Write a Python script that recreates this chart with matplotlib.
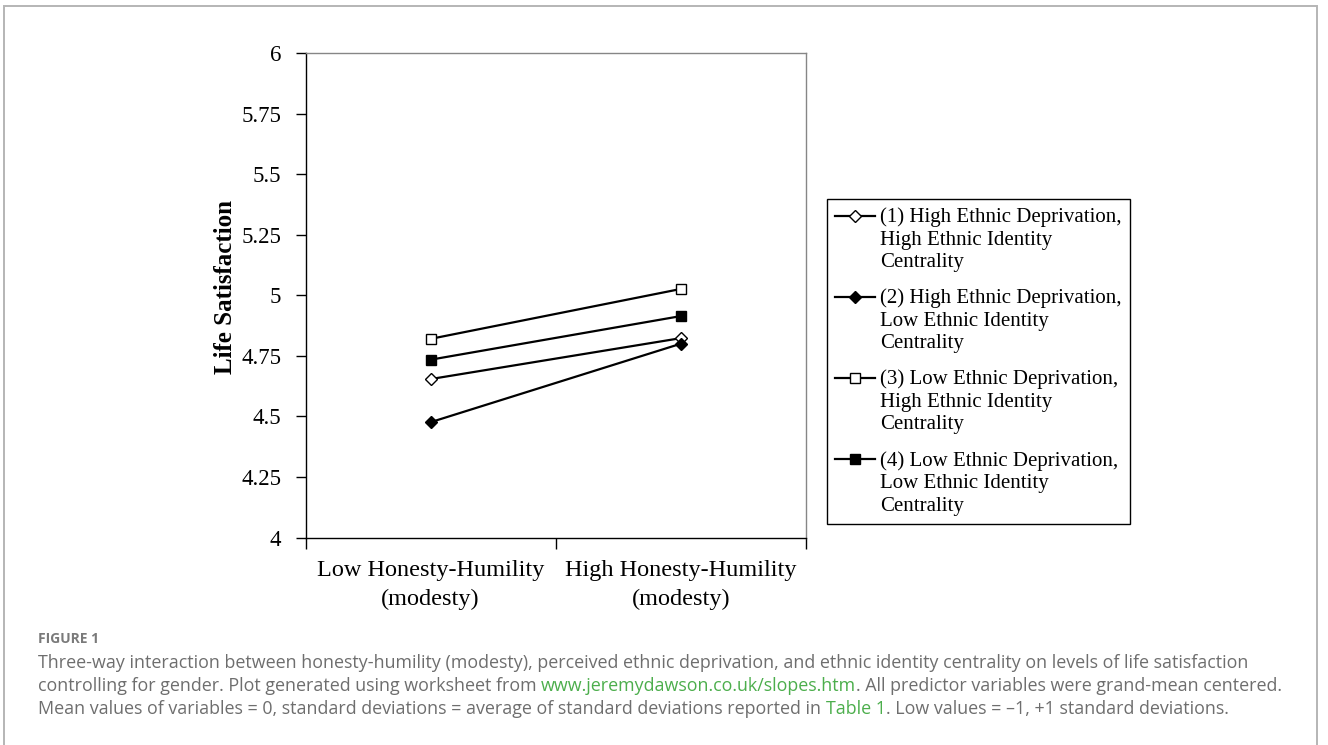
import matplotlib
matplotlib.use("Agg")
import matplotlib.pyplot as plt
from matplotlib.ticker import FixedLocator
from matplotlib.patches import Rectangle

# ---------------- data ----------------
categories = ["Low Honesty-Humility\n(modesty)", "High Honesty-Humility\n(modesty)"]
series_labels = [
    "(1) High Ethnic Deprivation,\nHigh Ethnic Identity\nCentrality",
    "(2) High Ethnic Deprivation,\nLow Ethnic Identity\nCentrality",
    "(3) Low Ethnic Deprivation,\nHigh Ethnic Identity\nCentrality",
    "(4) Low Ethnic Deprivation,\nLow Ethnic Identity\nCentrality",
]
s1_high_dep_high_cent = [4.654, 4.823]
s2_high_dep_low_cent = [4.476, 4.800]
s3_low_dep_high_cent = [4.820, 5.026]
s4_low_dep_low_cent = [4.734, 4.914]
ytick_values = [4, 4.25, 4.5, 4.75, 5, 5.25, 5.5, 5.75, 6]
ytick_labels = ["4", "4.25", "4.5", "4.75", "5", "5.25", "5.5", "5.75", "6"]
ylabel = "Life Satisfaction"

SERIF = ["Liberation Serif", "DejaVu Serif"]
SANS = ["Open Sans", "DejaVu Sans"]

W, H = 1328, 745
fig = plt.figure(figsize=(W / 100, H / 100), dpi=100)

# outer frame
fig.patches.append(Rectangle((4 / W, -0.05), (1317 - 4) / W, 1.05 - 6 / H,
                             transform=fig.transFigure, fill=False,
                             edgecolor="#b5b5b5", linewidth=1.4))

ax = fig.add_axes([305.5 / W, 1 - 537.5 / H, (806 - 305.5) / W, (537.5 - 53) / H])

xpos = list(range(len(categories)))
series = [s1_high_dep_high_cent, s2_high_dep_low_cent, s3_low_dep_high_cent, s4_low_dep_low_cent]
markers = ["D", "D", "s", "s"]
faces = ["white", "black", "white", "black"]
sizes = [6.0, 6.3, 7.5, 7.5]
for vals, lab, mk, fc, ms in zip(series, series_labels, markers, faces, sizes):
    ax.plot(xpos, vals, color="black", lw=1.6, marker=mk, ms=ms,
            mfc=fc, mec="black", mew=1.0, label=lab)

ax.set_xlim(-0.5, len(categories) - 0.5)
ax.set_ylim(ytick_values[0], ytick_values[-1])
ax.set_xticks(xpos)
ax.set_xticklabels(categories, fontfamily=SERIF, fontsize=17.5, linespacing=1.45)
ax.tick_params(axis="x", which="major", length=0, pad=16.5)
ax.xaxis.set_minor_locator(FixedLocator([p - 0.5 for p in xpos] + [xpos[-1] + 0.5]))
ax.tick_params(axis="x", which="minor", length=8, width=1, direction="out", color="black")
ax.set_yticks(ytick_values)
ax.set_yticklabels(ytick_labels, fontfamily=SERIF, fontsize=16.5)
ax.tick_params(axis="y", length=7, width=1, direction="out", pad=10.5, color="black")

for side in ("left", "bottom"):
    ax.spines[side].set_color("black")
    ax.spines[side].set_linewidth(1.0)
for side in ("top", "right"):
    ax.spines[side].set_color("#868686")
    ax.spines[side].set_linewidth(1.0)

ax.set_ylabel(ylabel, fontfamily=SERIF, fontsize=18, fontweight="bold")
ax.yaxis.set_label_coords(-0.137, 0.517)

leg = ax.legend(loc="lower left", bbox_to_anchor=(827 / W, 1 - 524 / H),
                bbox_transform=fig.transFigure, frameon=True, fancybox=False,
                edgecolor="black", framealpha=1,
                prop={"family": SERIF, "size": 15},
                handlelength=1.9, handletextpad=0.25, handleheight=1.1,
                borderpad=0.4, labelspacing=0.79, borderaxespad=0)
leg.get_frame().set_linewidth(1.0)
for t in leg.get_texts():
    t.set_linespacing(1.25)
for col in leg._legend_handle_box.get_children():
    for row in col.get_children():
        row.align = "top"

# ---------------- caption ----------------
GRAY = "#6e6e6e"
GREEN = "#4cae4c"
renderer = fig.canvas.get_renderer()


def adv_width(s, size, weight="normal"):
    t = fig.text(0, 0, s + "|", fontfamily=SANS, fontsize=size, fontweight=weight)
    w = t.get_window_extent(renderer).width
    t.remove()
    t2 = fig.text(0, 0, "|", fontfamily=SANS, fontsize=size, fontweight=weight)
    w2 = t2.get_window_extent(renderer).width
    t2.remove()
    return w - w2


caption_lines = [
    [("Three-way interaction between honesty-humility (modesty), perceived ethnic deprivation, and ethnic identity centrality on levels of life satisfaction", GRAY)],
    [("controlling for gender. Plot generated using worksheet from ", GRAY),
     ("www.jeremydawson.co.uk/slopes.htm", GREEN),
     (". All predictor variables were grand-mean centered.", GRAY)],
    [("Mean values of variables = 0, standard deviations = average of standard deviations reported in ", GRAY),
     ("Table 1", GREEN),
     (". Low values = \u20131, +1 standard deviations.", GRAY)],
]
# caption size chosen so the first line spans the same width as in the figure
cap_size = 10.0 * (1255 - 38) / adv_width(caption_lines[0][0][0], 10.0)
fig_size = 10.0 * 61 / adv_width("FIGURE 1", 10.0, "bold")

fig.text(38 / W, 1 - 639 / H, "FIGURE 1", fontfamily=SANS, fontsize=fig_size,
         fontweight="bold", color="#7a7a7a", va="center", ha="left")

line_y = [662.5, 686, 709.5]
for segs, yy in zip(caption_lines, line_y):
    xx = 38.0
    for s, c in segs:
        fig.text(xx / W, 1 - yy / H, s, fontfamily=SANS, fontsize=cap_size,
                 color=c, va="center", ha="left")
        xx += adv_width(s, cap_size)

fig.savefig("out.png", dpi=100)
